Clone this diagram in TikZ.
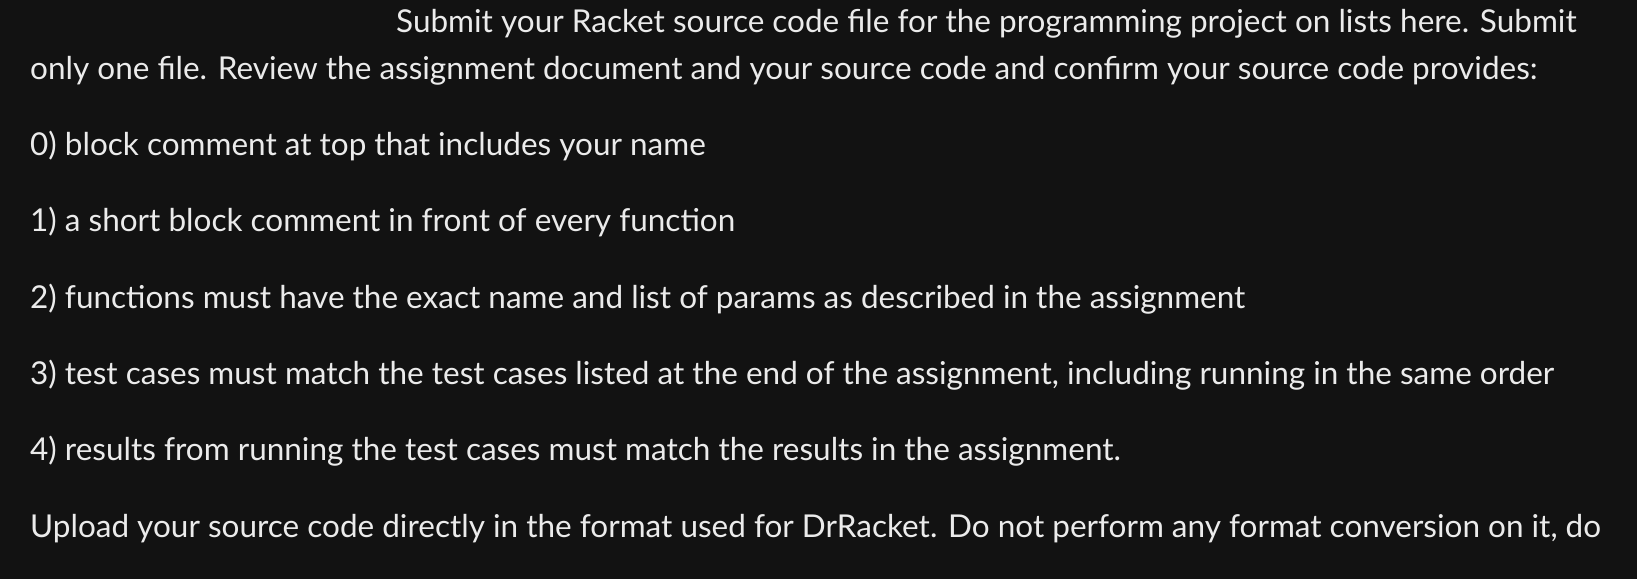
\documentclass[tikz,border=0pt]{standalone}
\usepackage{fontspec}
\setmainfont{Lato}
\begin{document}
\begin{tikzpicture}[x=1pt,y=-1pt,txt/.style={anchor=base west,inner sep=0pt,text=white!92!black,font=\fontsize{31.5}{38}\selectfont}]
\fill[black!93!white] (0,0) rectangle (1637,579);
\useasboundingbox (0,0) rectangle (1637,579);
\node[txt] (l1) at (396,32) {Submit your Racket source code file for the programming project on lists here. Submit};
\node[txt] (l2) at (30,79) {only one file. Review the assignment document and your source code and confirm your source code provides:};
\node[txt] (l3) at (30,155) {0) block comment at top that includes your name};
\node[txt] (l4) at (30,231) {1) a short block comment in front of every function};
\node[txt] (l5) at (30,308) {2) functions must have the exact name and list of params as described in the assignment};
\node[txt] (l6) at (30,384) {3) test cases must match the test cases listed at the end of the assignment, including running in the same order};
\node[txt] (l7) at (30,460) {4) results from running the test cases must match the results in the assignment.};
\node[txt] (l8) at (30,537) {Upload your source code directly in the format used for DrRacket. Do not perform any format conversion on it, do};
\end{tikzpicture}
\end{document}
